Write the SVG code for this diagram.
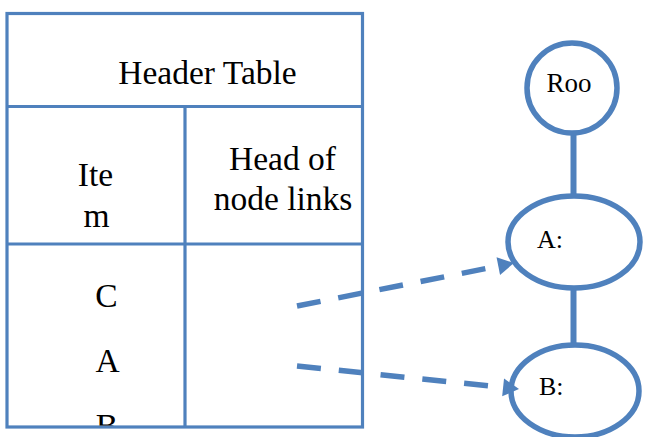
<svg xmlns="http://www.w3.org/2000/svg" width="645" height="437" viewBox="0 0 645 437">
  <style>
    .grid { stroke: #4F81BD; stroke-width: 3.2; fill: none; }
    .node-shape { stroke: #4F81BD; stroke-width: 5.5; fill: #fff; }
    .tree-edge { stroke: #4F81BD; stroke-width: 6; fill: none; }
    .link { stroke: #4F81BD; stroke-width: 5.5; fill: none; stroke-dasharray: 24 18; }
  </style>
  <defs>
    <marker id="arrow" markerUnits="userSpaceOnUse" viewBox="0 -10 20 20" markerWidth="20" markerHeight="20" refX="0" refY="0" orient="auto" overflow="visible">
      <path d="M0,-9 L16,0 L0,9 Z" fill="#4F81BD"/>
    </marker>
    <clipPath id="itemClip">
      <rect x="8" y="245" width="176" height="180.5"/>
    </clipPath>
  </defs>

  <rect width="645" height="437" fill="#fff"/>

  <!-- header table -->
  <g id="header-table">
    <rect class="grid" x="7" y="13.5" width="355.5" height="413.5"/>
    <line class="grid" x1="7" y1="106.5" x2="362.5" y2="106.5"/>
    <line class="grid" x1="185" y1="106.5" x2="185" y2="427"/>
    <line class="grid" x1="7" y1="244" x2="362.5" y2="244"/>
    <g font-family="'Liberation Serif', 'Times New Roman', 'DejaVu Serif', serif" font-size="33.5" fill="#000" text-anchor="middle">
      <text x="207.5" y="84">Header Table</text>
      <text x="95.5" y="186">Ite</text>
      <text x="96.5" y="227">m</text>
      <text x="282.5" y="170">Head of</text>
      <text x="283" y="210">node links</text>
      <g clip-path="url(#itemClip)">
        <text x="106.5" y="307">C</text>
        <text x="107.5" y="372">A</text>
        <text x="107" y="437">B</text>
      </g>
    </g>
  </g>

  <!-- tree edges -->
  <g id="connectors">
    <line class="tree-edge" x1="573.5" y1="132" x2="573.5" y2="196"/>
    <line class="tree-edge" x1="573.5" y1="288" x2="573.5" y2="345"/>
  </g>

  <g id="node-root">
    <circle class="node-shape" cx="572" cy="88" r="45"/>
    <text x="569" y="92" font-family="'Liberation Serif', 'Times New Roman', 'DejaVu Serif', serif" font-size="27" fill="#000" text-anchor="middle">Roo</text>
  </g>
  <g id="node-a">
    <ellipse class="node-shape" cx="574" cy="242" rx="66" ry="46"/>
    <text x="537" y="248" font-family="'Liberation Serif', 'Times New Roman', 'DejaVu Serif', serif" font-size="26" fill="#000">A:</text>
  </g>
  <g id="node-b">
    <ellipse class="node-shape" cx="575" cy="391" rx="64" ry="46"/>
    <text x="539" y="395" font-family="'Liberation Serif', 'Times New Roman', 'DejaVu Serif', serif" font-size="26" fill="#000">B:</text>
  </g>

  <!-- node links from the header table -->
  <g id="links">
    <path class="link" d="M297,306 L498.3,266.1" marker-end="url(#arrow)"/>
    <path class="link" d="M297,366 L503.1,387.4" marker-end="url(#arrow)"/>
  </g>
</svg>
